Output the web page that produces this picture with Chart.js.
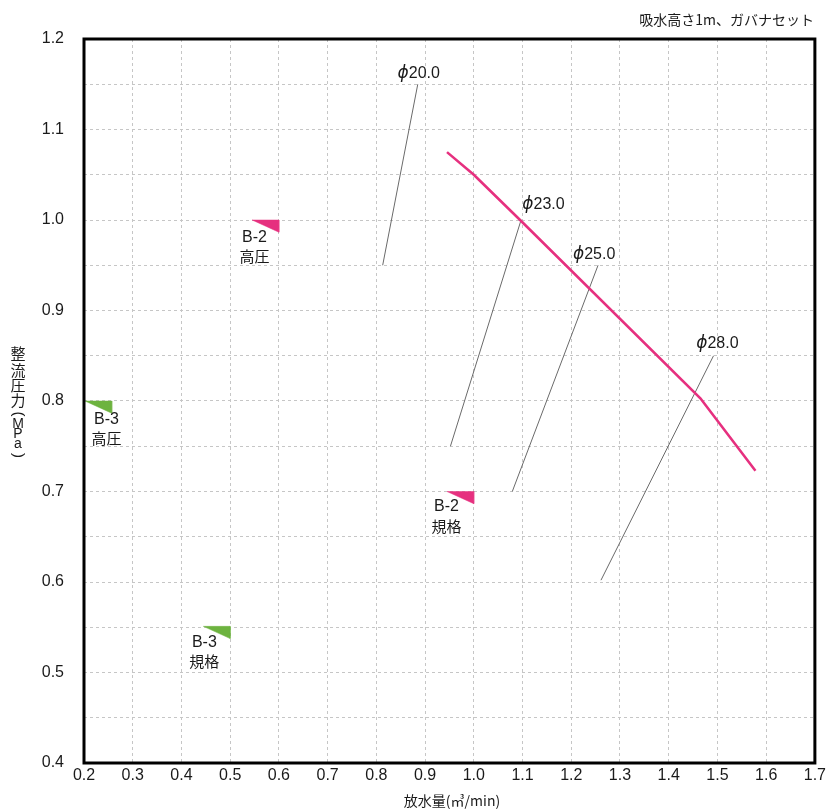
<!DOCTYPE html>
<html>
<head>
<meta charset="utf-8">
<script src="https://cdn.jsdelivr.net/npm/chart.js@4.4.1/dist/chart.umd.min.js"></script>
<style>
  html, body { margin: 0; padding: 0; background: #fff; }
  #wrap { width: 829px; height: 811px; position: relative; }
</style>
</head>
<body>
<div id="wrap"><canvas id="chart"></canvas></div>
<script>
// --- data ---
var curveX = [0.945, 1.0, 1.095, 1.465, 1.578];
var curveY = [1.075, 1.05, 1.0, 0.803, 0.723];

// nozzle lines
var nozzleNames = ["ϕ20.0", "ϕ23.0", "ϕ25.0", "ϕ28.0"];
var nozzleFromX = [0.813, 0.952, 1.079, 1.261];
var nozzleFromY = [0.95, 0.75, 0.70, 0.602];
var nozzleToX = [0.885, 1.097, 1.255, 1.492];
var nozzleToY = [1.15, 1.0, 0.95, 0.85];
var nozzleLabelX = [0.887, 1.143, 1.247, 1.50];
var nozzleLabelY = [1.162, 1.017, 0.962, 0.863];

// spec markers (right-top corner of triangle)
var markName = ["B-2", "B-2", "B-3", "B-3"];
var markKind = ["高圧", "規格", "高圧", "規格"];
var markX = [0.6, 1.0, 0.257, 0.5];
var markY = [1.0, 0.7, 0.8, 0.551];
var markLabelX = [0.550, 0.944, 0.246, 0.447];
var markLabelY = [0.981, 0.683, 0.780, 0.533];

var xTicks = [0.2, 1.7, 0.1];
var yTicks = [0.4, 1.2, 0.05];

var PINK = "#e6307f";
var GREEN = "#6db33f";
var GRAY = "#6a6a6a";
var FONT = "'Liberation Sans', 'Noto Sans CJK JP', sans-serif";
var JFONT = "'Noto Sans CJK JP', sans-serif";
var TRI_W = 0.055, TRI_H = 0.0135;

var datasets = [];
datasets.push({
  label: "curve",
  data: curveX.map(function(x, i) { return { x: x, y: curveY[i] }; }),
  borderColor: PINK, borderWidth: 2.6, pointRadius: 0, tension: 0, fill: false
});
nozzleNames.forEach(function(n, i) {
  datasets.push({
    label: n,
    data: [{ x: nozzleFromX[i], y: nozzleFromY[i] }, { x: nozzleToX[i], y: nozzleToY[i] }],
    borderColor: GRAY, borderWidth: 1, pointRadius: 0, fill: false
  });
});
markName.forEach(function(n, i) {
  var c = n === "B-2" ? PINK : GREEN;
  datasets.push({
    label: n + markKind[i],
    data: [
      { x: markX[i] - TRI_W, y: markY[i] },
      { x: markX[i], y: markY[i] },
      { x: markX[i], y: markY[i] - TRI_H },
      { x: markX[i] - TRI_W, y: markY[i] }
    ],
    borderColor: c, backgroundColor: c, borderWidth: 0.5, pointRadius: 0, fill: "shape"
  });
});

var textPlugin = {
  id: "texts",
  afterDraw: function(chart) {
    var ctx = chart.ctx, a = chart.chartArea;
    var xs = chart.scales.x, ys = chart.scales.y;
    ctx.save();
    // frame
    ctx.strokeStyle = "#000";
    ctx.lineWidth = 3;
    ctx.strokeRect(a.left, a.top, a.right - a.left, a.bottom - a.top);

    ctx.fillStyle = "#1a1a1a";
    ctx.textAlign = "center";
    ctx.textBaseline = "middle";
    nozzleNames.forEach(function(n, i) {
      var px = xs.getPixelForValue(nozzleLabelX[i]), py = ys.getPixelForValue(nozzleLabelY[i]);
      // phi glyph a little larger, then the number
      ctx.font = "16px " + FONT;
      var num = n.slice(1);
      var wNum = ctx.measureText(num).width;
      ctx.font = "italic 17px 'DejaVu Sans', sans-serif";
      var wPhi = ctx.measureText(n[0]).width;
      var left = px - (wNum + wPhi) / 2;
      ctx.textAlign = "left";
      ctx.fillText(n[0], left, py);
      ctx.font = "16px " + FONT;
      ctx.fillText(num, left + wPhi, py);
      ctx.textAlign = "center";
    });
    markName.forEach(function(n, i) {
      var px = xs.getPixelForValue(markLabelX[i]), py = ys.getPixelForValue(markLabelY[i]);
      ctx.font = "16px " + FONT;
      ctx.fillText(n, px, py);
      ctx.font = "15px " + JFONT;
      ctx.fillText(markKind[i], px, py + 19);
    });

    // top-right note
    ctx.textAlign = "right";
    ctx.font = "14px " + JFONT;
    ctx.fillText("吸水高さ1m、ガバナセット", 814, 20);

    // x title
    ctx.textAlign = "center";
    ctx.fillText("放水量(㎥/min)", 452, 801);

    // y title, vertical
    var chars = ["整", "流", "圧", "力", "(", "M", "P", "a", ")"];
    var offs = [0, 16.5, 31.5, 46.5, 60.5, 71, 81, 90.5, 102];
    chars.forEach(function(c, i) {
      var y = 353.5 + offs[i];
      if (c === "(" || c === ")") {
        ctx.save();
        ctx.translate(18, y);
        ctx.rotate(Math.PI / 2);
        ctx.font = "15px " + FONT;
        ctx.fillText(c, 0, 0);
        ctx.restore();
      } else if (c.charCodeAt(0) > 255) {
        ctx.font = "15px " + JFONT;
        ctx.fillText(c, 18, y);
      } else {
        ctx.font = "14px " + FONT;
        ctx.fillText(c, 18, y);
      }
    });
    ctx.restore();
  }
};

new Chart(document.getElementById("chart"), {
  type: "line",
  data: { datasets: datasets },
  options: {
    responsive: true,
    maintainAspectRatio: false,
    animation: false,
    layout: { padding: { top: 39, right: 12, left: 0, bottom: 0 } },
    plugins: { legend: { display: false }, tooltip: { enabled: false } },
    scales: {
      x: {
        type: "linear", min: xTicks[0], max: xTicks[1],
        ticks: {
          stepSize: xTicks[2], color: "#1a1a1a", padding: 3, maxRotation: 0,
          font: { family: FONT, size: 16 },
          callback: function(v) { return Number(v).toFixed(1); }
        },
        grid: { color: "#c6c6c6", lineWidth: 1, drawTicks: false },
        border: { display: false, dash: [3, 3] },
        afterFit: function(s) { s.height = 48; }
      },
      y: {
        type: "linear", min: yTicks[0], max: yTicks[1],
        ticks: {
          stepSize: yTicks[2], color: "#1a1a1a", padding: 20,
          font: { family: FONT, size: 16 },
          callback: function(v) {
            var t = v * 10;
            return Math.abs(t - Math.round(t)) < 1e-6 ? Number(v).toFixed(1) : "";
          }
        },
        grid: { color: "#c6c6c6", lineWidth: 1, drawTicks: false },
        border: { display: false, dash: [3, 3] },
        afterFit: function(s) { s.width = 84; }
      }
    }
  },
  plugins: [textPlugin]
});
</script>
</body>
</html>
